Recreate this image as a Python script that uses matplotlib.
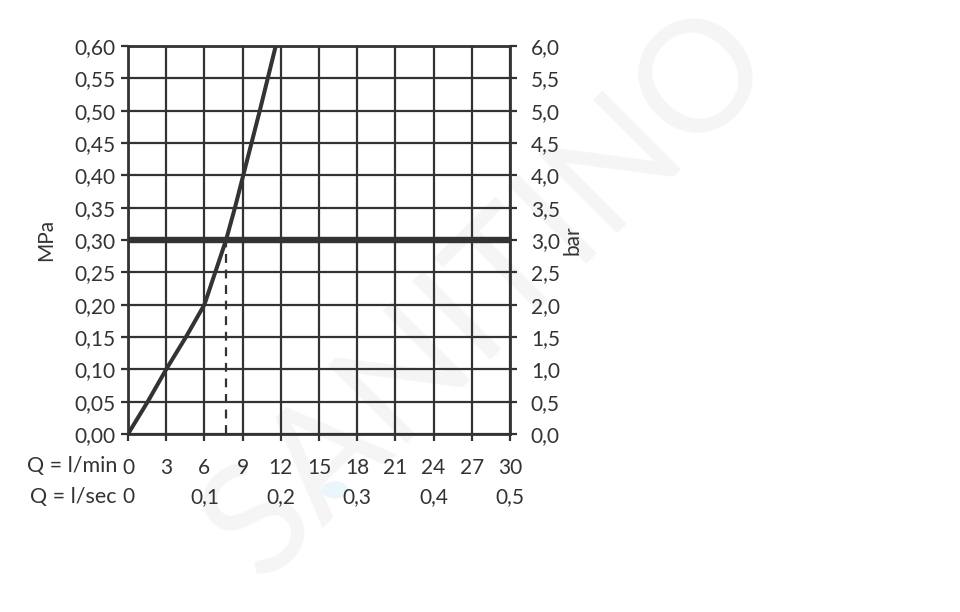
import matplotlib
matplotlib.use("Agg")
import matplotlib.pyplot as plt
from matplotlib.patches import Circle
import numpy as np

# ---- data ----
flow_lmin = [0, 1.55, 3.0, 4.55, 6.0, 6.85, 7.7, 8.4, 9.05, 10.35, 11.6]
pressure_mpa = [0, 0.05, 0.10, 0.15, 0.20, 0.25, 0.30, 0.35, 0.40, 0.50, 0.60]
ref_pressure = 0.30
ref_flow = 7.7
x_ticks_lmin = [0, 3, 6, 9, 12, 15, 18, 21, 24, 27, 30]
x_ticks_lsec = [0, 0.1, 0.2, 0.3, 0.4, 0.5]
y_ticks_mpa = [round(0.05 * i, 2) for i in range(13)]
y_ticks_bar = [round(0.5 * i, 1) for i in range(13)]

INK = "#333333"
FONT = ["Lato", "DejaVu Sans"]
plt.rcParams["font.family"] = FONT
FS = 15

fig = plt.figure(figsize=(9.6, 6.12), dpi=100)
fig.patch.set_facecolor("white")

# watermark (behind everything)
fig.text(0.51, 0.52, "SANITINO", rotation=45, fontsize=112, color="#f5f5f5",
         ha="center", va="center", zorder=-10)
fig.patches.append(Circle((335 / 960, 1 - 490 / 612), 0.013, transform=fig.transFigure,
                          color="#eaf5fc", zorder=-9))

ax = fig.add_axes([128 / 960, 1 - 434 / 612, (510 - 128) / 960, (434 - 46) / 612])
ax.patch.set_alpha(0)
ax.set_xlim(0, 30)
ax.set_ylim(0, 0.6)

ax.set_xticks(x_ticks_lmin)
ax.set_xticklabels([str(v) for v in x_ticks_lmin])
ax.set_yticks(y_ticks_mpa)
ax.set_yticklabels([f"{v:.2f}".replace(".", ",") for v in y_ticks_mpa])
ax.grid(True, color=INK, lw=1.6, zorder=1)
for s in ax.spines.values():
    s.set_color(INK)
    s.set_linewidth(2.0)
ax.tick_params(axis="both", colors=INK, labelcolor=INK, labelsize=FS, width=1.6, length=5)
ax.tick_params(axis="x", pad=12)
ax.tick_params(axis="y", pad=4)

# curve and reference lines
ax.plot(flow_lmin, pressure_mpa, color=INK, lw=2.9, zorder=4, solid_capstyle="butt")
ax.axhline(ref_pressure, color=INK, lw=4.6, zorder=3)
ax.plot([ref_flow, ref_flow], [0, ref_pressure], color=INK, lw=1.6,
        dashes=(4, 3), zorder=3)

ax.set_ylabel("MPa", fontsize=FS, color=INK, labelpad=13)

# right axis in bar
axr = ax.twinx()
axr.patch.set_alpha(0)
axr.set_ylim(0, 6)
axr.set_yticks(y_ticks_bar)
axr.set_yticklabels([f"{v:.1f}".replace(".", ",") for v in y_ticks_bar])
axr.tick_params(axis="y", colors=INK, labelcolor=INK, labelsize=FS, width=1.6, length=5, pad=10)
for s in axr.spines.values():
    s.set_visible(False)
axr.set_ylabel("bar", fontsize=FS, color=INK, rotation=90, labelpad=2)

# secondary x axis in l/sec
sec = ax.secondary_xaxis("bottom", functions=(lambda x: x / 60.0, lambda x: x * 60.0))
sec.set_xticks(x_ticks_lsec)
sec.set_xticklabels(["0"] + [f"{v:.1f}".replace(".", ",") for v in x_ticks_lsec[1:]])
sec.tick_params(axis="x", length=0, labelsize=FS, colors=INK, labelcolor=INK, pad=38)
sec.spines["bottom"].set_visible(False)

fig.text(117 / 960, 1 - 466 / 612, "Q = l/min", ha="right", va="center", fontsize=15.5, color=INK)
fig.text(117 / 960, 1 - 497 / 612, "Q = l/sec", ha="right", va="center", fontsize=15.5, color=INK)

fig.savefig("out.png", dpi=100)
